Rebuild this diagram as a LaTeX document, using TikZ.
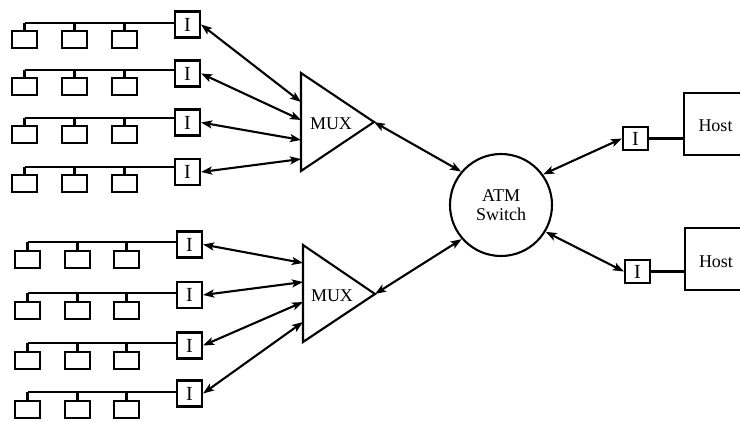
\documentclass[tikz,border=0pt]{standalone}
\usepackage{fontspec}
\setmainfont{Liberation Serif}
\usetikzlibrary{arrows.meta,calc}

\begin{document}
\begin{tikzpicture}[x=1pt,y=-1pt,line width=2.1pt,
  station/.style={draw,minimum width=25pt,minimum height=17pt,inner sep=0pt},
  iface/.style={draw,fill=white,minimum width=25pt,minimum height=26pt,inner sep=0pt,
    font=\fontsize{20}{20}\selectfont},
  hostbox/.style={draw,minimum width=80pt,minimum height=62pt,inner sep=0pt,anchor=west},
  lbl/.style={font=\fontsize{18}{19}\selectfont,align=center,inner sep=0pt},
  link/.style={{Stealth[length=11pt,width=8pt,inset=2.5pt]}-{Stealth[length=11pt,width=8pt,inset=2.5pt]}}]

\useasboundingbox (0,0) rectangle (740,421);
\clip (0,0) rectangle (740,421);

% ---- upper group of LAN segments
\foreach \n/\by/\iy in {1/23/24.5,2/70/73.5,3/118/122.5,4/167/172} {
  \node[iface] (ia\n) at (187.5,\iy) {I};
  \coordinate (ba\n) at (24.5,\by);
  \foreach \k/\sx in {1/24.5,2/74.5,3/124.5} {
    \node[station] (sa\n\k) at (\sx,\by+16.5) {};
    \draw (sa\n\k.north) -- (sa\n\k.north |- ba\n);
  }
  \draw (ba\n) -- (ia\n.west |- ba\n);
}

% ---- lower group of LAN segments
\foreach \n/\by/\iy in {1/242/244.5,2/293/295,3/343/345.5,4/392/393.5} {
  \node[iface] (ib\n) at (189.5,\iy) {I};
  \coordinate (bb\n) at (27.5,\by);
  \foreach \k/\sx in {1/27.5,2/77.5,3/126.5} {
    \node[station] (sb\n\k) at (\sx,\by+17.5) {};
    \draw (sb\n\k.north) -- (sb\n\k.north |- bb\n);
  }
  \draw (bb\n) -- (ib\n.west |- bb\n);
}

% ---- multiplexers
\coordinate (mA1) at (301,73);
\coordinate (mA2) at (301,171);
\coordinate (mA3) at (374,122);
\draw[line join=miter] (mA1) -- (mA2) -- (mA3) -- cycle;
\node[lbl] (muxA) at (331,124) {MUX};

\coordinate (mB1) at (303,245);
\coordinate (mB2) at (303,342);
\coordinate (mB3) at (375,294);
\draw[line join=miter] (mB1) -- (mB2) -- (mB3) -- cycle;
\node[lbl] (muxB) at (332,296) {MUX};

% inputs on the multiplexer sides
\foreach \n/\py in {1/102,2/120,3/140,4/159}
  \coordinate (pa\n) at (301,\py);
\foreach \n/\py in {1/263,2/282,3/302,4/322}
  \coordinate (pb\n) at (303,\py);

\foreach \n in {1,...,4} {
  \draw[link] (ia\n.east) -- (pa\n);
  \draw[link] (ib\n.east) -- (pb\n);
}

% ---- switch
\node[draw,circle,minimum size=102pt,inner sep=0pt,lbl] (atm) at (501,205) {ATM\\Switch};

\draw[link] (mA3) -- (atm.140);
\draw[link] (mB3) -- (atm.221);

% ---- hosts
\node[iface,minimum height=23pt] (ir1) at (635.5,138.5) {I};
\node[iface,minimum height=23pt] (ir2) at (637.5,271.5) {I};
\node[hostbox] (hostA) at (683,124) {};
\node[hostbox] (hostB) at (684,259) {};
\node[lbl] (hostAtxt) at (715.5,126) {Host};
\node[lbl] (hostBtxt) at (716,262) {Host};

\draw (ir1.east) -- (ir1.east -| hostA.west);
\draw (ir2.east) -- (ir2.east -| hostB.west);

\draw[link] (atm.36) -- (ir1.west);
\draw[link] (atm.-31) -- (ir2.west);

\end{tikzpicture}
\end{document}
